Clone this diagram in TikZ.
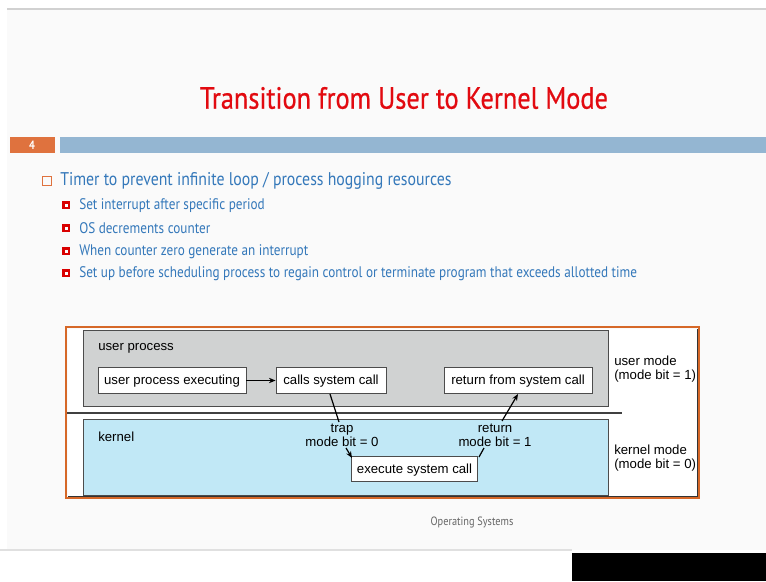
\documentclass[tikz,border=0pt]{standalone}
\usepackage{fontspec}
\setmainfont{Liberation Sans}
\newfontfamily\slidefont[FakeStretch=0.86]{PT Sans}
\newfontfamily\titlefont[FakeStretch=0.86,FakeBold=0.6]{PT Sans}
\newfontfamily\figfont{Liberation Sans}
\usetikzlibrary{arrows.meta}
\definecolor{titlered}{RGB}{226,10,16}
\definecolor{textblue}{RGB}{52,120,186}
\definecolor{barblue}{RGB}{148,182,210}
\definecolor{tagorange}{RGB}{223,114,62}
\definecolor{userbg}{RGB}{208,210,210}
\definecolor{kernbg}{RGB}{193,232,246}
\definecolor{frameorange}{RGB}{214,104,40}
\definecolor{slidebg}{RGB}{250,250,250}
\begin{document}
\begin{tikzpicture}[x=0.75pt,y=-0.75pt,
  sub/.style={anchor=west,inner sep=0pt,text=textblue,font=\slidefont\fontsize{11.5pt}{13pt}\selectfont},
  subbox/.style={fill=red!85!black,minimum size=6pt,inner sep=0pt},
  fbox/.style={draw=black!70,fill=white,line width=0.6pt,inner sep=0pt,minimum height=19pt,text height=7.2pt,text depth=1.2pt,font=\figfont\fontsize{9.9pt}{11pt}\selectfont},
  flabel/.style={inner sep=0pt,font=\figfont\fontsize{9.9pt}{10.5pt}\selectfont,align=left},
  conn/.style={line width=0.9pt,draw=black},
  tip/.style={-{Stealth[length=5pt,width=4pt]}}]
\useasboundingbox (0,0) rectangle (766,581);
\fill[white] (0,0) rectangle (766,581);
% slide background and frame lines
\fill[slidebg] (7,9) rectangle (766,550);
\draw[black!18,line width=0.8pt] (7,9) -- (766,9);
\draw[black!12,line width=0.8pt] (0,550) -- (572,550);
\fill[black] (572,553) rectangle (766,581);
% title
\node[text=titlered,font=\titlefont\fontsize{23pt}{27pt}\selectfont] (title) at (404,98) {Transition from User to Kernel Mode};
% slide number tag and bar
\fill[tagorange] (10,137) rectangle (55,153);
\node[text=white,font=\slidefont\bfseries\fontsize{9pt}{10pt}\selectfont] (num) at (32,145) {4};
\fill[barblue] (60,137) rectangle (766,153);
% bullets
\node[draw=tagorange,line width=0.7pt,minimum size=6.5pt,inner sep=0pt] (b0) at (47,181) {};
\node[sub,font=\slidefont\fontsize{13.8pt}{15pt}\selectfont] (t0) at (60,181) {Timer to prevent infinite loop / process hogging resources};
\foreach \y/\txt [count=\i] in {204/Set interrupt after specific period,
  227/OS decrements counter,
  250/When counter zero generate an interrupt,
  272/Set up before scheduling process to regain control or terminate program that exceeds allotted time}{
  \node[subbox] (sq\i) at (66,\y+1) {};
  \fill[white] (64.5,\y-0.5) rectangle (67.5,\y+2.5);
  \node[sub] (t\i) at (79,\y+1.5) {\txt};
}
% diagram frame
\draw[frameorange,line width=2pt] (66,327) rectangle (699,498);
\draw[black!80,line width=0.6pt] (68,329) rectangle (697,496);
\fill[white] (68.3,329.3) rectangle (696.7,495.7);
\draw[black!70,fill=userbg,line width=0.6pt] (83,330) rectangle (608,406);
\draw[black!70,fill=kernbg,line width=0.6pt] (83,419) rectangle (608,495);
\draw[black!75,line width=1.2pt] (67,413) -- (622,413);
% region labels
\node[flabel,anchor=west] (up) at (98,348) {user process};
\node[flabel,anchor=west] (kn) at (98,437) {kernel};
\node[flabel,anchor=west] (um) at (614,369.5) {user mode\\(mode bit = 1)};
\node[flabel,anchor=west] (km) at (614,458.5) {kernel mode\\(mode bit = 0)};
% boxes
\node[fbox,minimum width=111pt] (exec) at (172,380.5) {user process executing};
\node[fbox,minimum width=82.5pt] (call) at (331,380.5) {calls system call};
\node[fbox,minimum width=111pt] (ret) at (518,380.5) {return from system call};
\node[fbox,minimum width=95pt] (sys) at (414.5,469) {execute system call};
% transition labels
\node[flabel,align=center] (trap) at (342,435.5) {trap\\mode bit = 0};
\node[flabel,align=center] (rtn) at (495,435.5) {return\\mode bit = 1};
% connectors
\draw[conn,tip] (exec) -- (call);
\draw[conn] (330,394) -- (339,422);
\draw[conn,tip] (346,448) -- (352,458);
\draw[conn] (479,457) -- (484,448);
\draw[conn,tip] (502,421) -- (518,394);
% footer
\node[text=black!60,font=\slidefont\fontsize{9pt}{10pt}\selectfont] (foot) at (472,522) {Operating Systems};
\end{tikzpicture}
\end{document}
